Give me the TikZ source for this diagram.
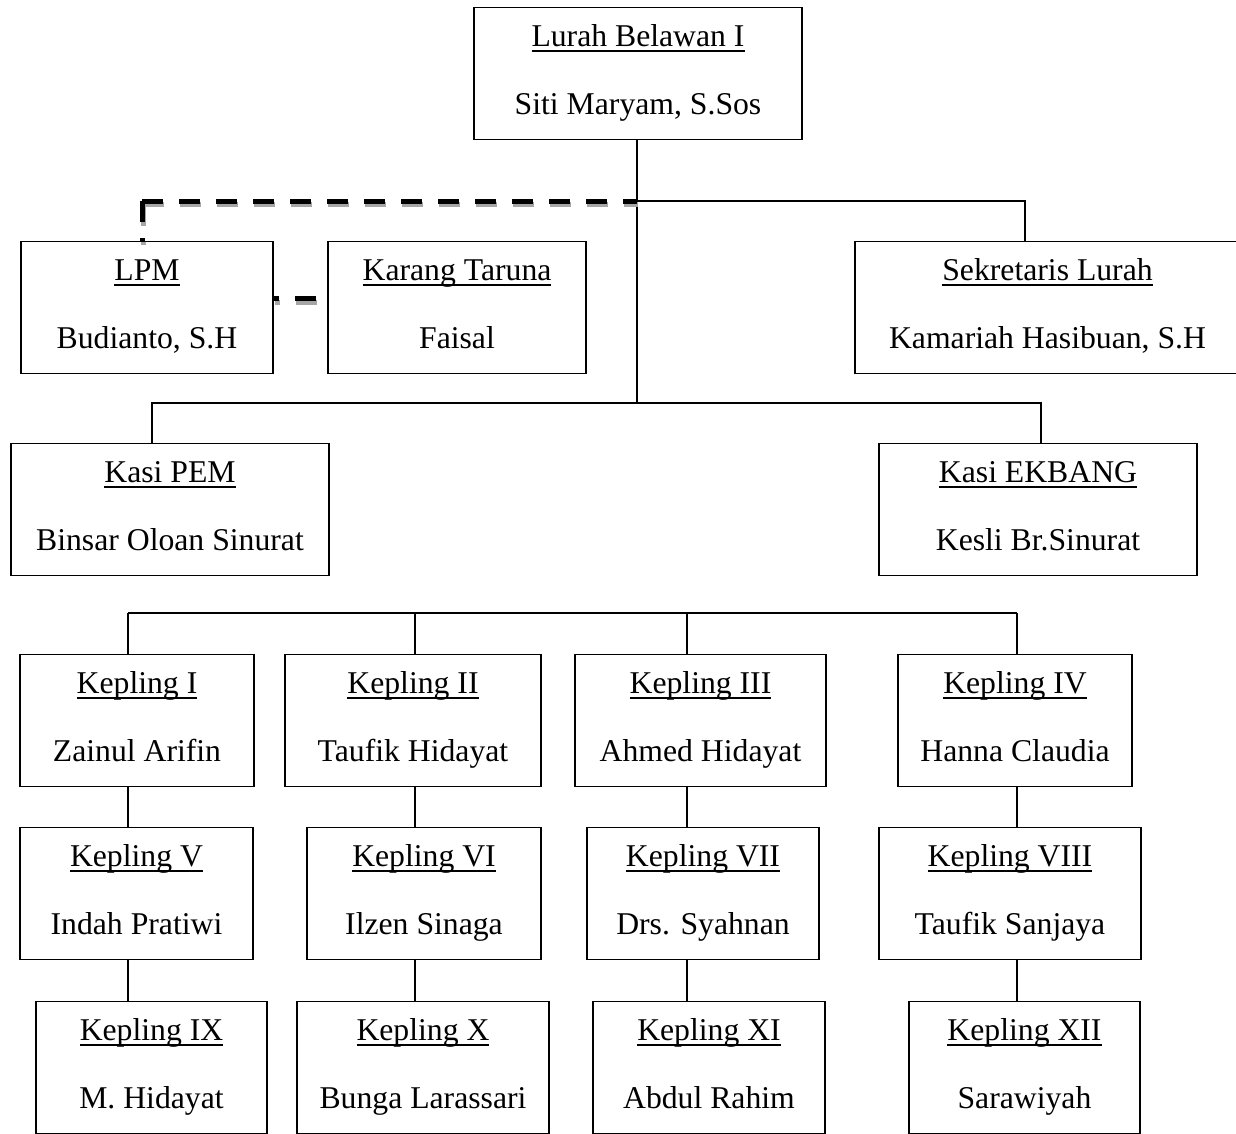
\documentclass[tikz,border=0pt]{standalone}
\usepackage{fontspec}
\setmainfont{Liberation Serif}
\usepackage{tikz}

\newcommand{\jab}[1]{\setbox0\hbox{#1}\rlap{\rule[-5.6pt]{\wd0}{2pt}}\box0}

\tikzset{
  orgbox/.style={draw, line width=1.2pt, inner sep=0pt, anchor=north, align=center,
    text height=107pt, text depth=25pt, font=\fontsize{31.7}{68}\selectfont},
  link/.style={line width=1.5pt},
  dashlink/.style={line width=5pt, dash pattern=on 21pt off 16pt,
    preaction={draw=black!35, line width=5pt, dash pattern=on 21pt off 16pt,
      transform canvas={shift={(1pt,-3.5pt)}}}}
}

\begin{document}
\begin{tikzpicture}[x=1pt,y=-1pt]
    \useasboundingbox (0,0) rectangle (1236,1133);
    \node[orgbox, minimum width=328pt] (lurah) at (638,7) {\jab{Lurah Belawan I}\\Siti Maryam, S.Sos};
    \node[orgbox, minimum width=252pt] (lpm) at (147,241) {\jab{LPM}\\Budianto, S.H};
    \node[orgbox, minimum width=258pt] (taruna) at (457,241) {\jab{Karang Taruna}\\Faisal};
    \node[orgbox, minimum width=385pt] (sekret) at (1047.5,241) {\jab{Sekretaris Lurah}\\Kamariah Hasibuan, S.H};
    \node[orgbox, minimum width=318pt] (pem) at (170,443) {\jab{Kasi PEM}\\Binsar Oloan Sinurat};
    \node[orgbox, minimum width=318pt] (ekbang) at (1038,443) {\jab{Kasi EKBANG}\\Kesli Br.Sinurat};

    \node[orgbox, minimum width=234pt] (k1) at (137,654) {\jab{Kepling I}\\Zainul Arifin};
    \node[orgbox, minimum width=256pt] (k2) at (413,654) {\jab{Kepling II}\\Taufik Hidayat};
    \node[orgbox, minimum width=251pt] (k3) at (700.5,654) {\jab{Kepling III}\\Ahmed Hidayat};
    \node[orgbox, minimum width=234pt] (k4) at (1015,654) {\jab{Kepling IV}\\Hanna Claudia};
    \node[orgbox, minimum width=233pt] (k5) at (136.5,827) {\jab{Kepling V}\\Indah Pratiwi};
    \node[orgbox, minimum width=234pt] (k6) at (424,827) {\jab{Kepling VI}\\Ilzen Sinaga};
    \node[orgbox, minimum width=232pt] (k7) at (703,827) {\jab{Kepling VII}\\Drs. Syahnan};
    \node[orgbox, minimum width=262pt] (k8) at (1010,827) {\jab{Kepling VIII}\\Taufik Sanjaya};
    \node[orgbox, minimum width=231pt] (k9) at (151.5,1001) {\jab{Kepling IX}\\M. Hidayat};
    \node[orgbox, minimum width=252pt] (k10) at (423,1001) {\jab{Kepling X}\\Bunga Larassari};
    \node[orgbox, minimum width=232pt] (k11) at (709,1001) {\jab{Kepling XI}\\Abdul Rahim};
    \node[orgbox, minimum width=231pt] (k12) at (1024.5,1001) {\jab{Kepling XII}\\Sarawiyah};

    % lurah down to the kasi
    \coordinate (js) at (637,201); \coordinate (kb) at (637,403);
    \coordinate (jl) at (142,201);
    \draw[link] (lurah.south -| kb) -- (kb);
    \draw[link] ([xshift=-18pt]pem.north) |- (kb) -| ([xshift=3pt]ekbang.north);
    \draw[link] (js) -| ([xshift=-22.5pt]sekret.north);
    \draw[dashlink] (jl) -- (js) (jl) -- (lpm.north -| jl);
    \draw[dashlink, dash phase=26pt] ([yshift=9pt]taruna.west) -- ([yshift=9pt]lpm.east);

    % kepling
    \coordinate (c1) at (128,613); \coordinate (c2) at (415,613);
    \coordinate (c3) at (687,613); \coordinate (c4) at (1017,613);
    \draw[link] (c1) -- (c4);
    \draw[link] (c1) -- (c1 |- k1.north) (k1.south -| c1) -- (k5.north -| c1) (k5.south -| c1) -- (k9.north -| c1);
    \draw[link] (c2) -- (c2 |- k2.north) (k2.south -| c2) -- (k6.north -| c2) (k6.south -| c2) -- (k10.north -| c2);
    \draw[link] (c3) -- (c3 |- k3.north) (k3.south -| c3) -- (k7.north -| c3) (k7.south -| c3) -- (k11.north -| c3);
    \draw[link] (c4) -- (c4 |- k4.north) (k4.south -| c4) -- (k8.north -| c4) (k8.south -| c4) -- (k12.north -| c4);
\end{tikzpicture}
\end{document}
